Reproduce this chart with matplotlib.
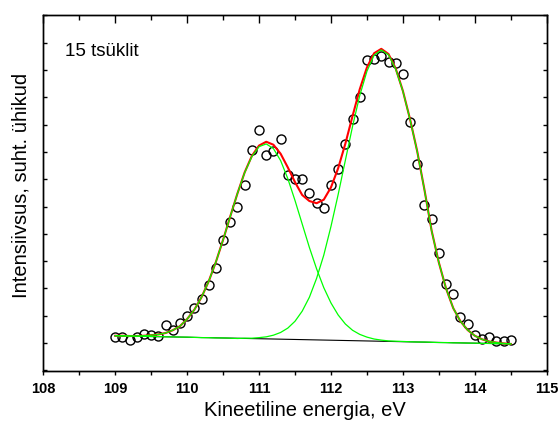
import matplotlib
matplotlib.use('Agg')
import matplotlib.pyplot as plt
from matplotlib.ticker import MultipleLocator

plt.rcParams['font.family'] = ['Liberation Sans', 'DejaVu Sans']

# kineetiline energia (eV)
energy = [109.0, 109.1, 109.2, 109.3, 109.4, 109.5, 109.6, 109.7, 109.8, 109.9,
          110.0, 110.1, 110.2, 110.3, 110.4, 110.5, 110.6, 110.7, 110.8, 110.9,
          111.0, 111.1, 111.2, 111.3, 111.4, 111.5, 111.6, 111.7, 111.8, 111.9,
          112.0, 112.1, 112.2, 112.3, 112.4, 112.5, 112.6, 112.7, 112.8, 112.9,
          113.0, 113.1, 113.2, 113.3, 113.4, 113.5, 113.6, 113.7, 113.8, 113.9,
          114.0, 114.1, 114.2, 114.3, 114.4, 114.5]

# measured points
meas = [0.23, 0.23, 0.11, 0.21, 0.33, 0.29, 0.26, 0.68, 0.47, 0.74,
        1.00, 1.27, 1.63, 2.14, 2.76, 3.78, 4.45, 5.00, 5.80, 7.08,
        7.81, 6.89, 7.02, 7.46, 6.17, 5.99, 6.01, 5.50, 5.12, 4.95,
        5.78, 6.39, 7.29, 8.21, 9.00, 10.35, 10.39, 10.49, 10.29, 10.26,
        9.85, 8.11, 6.56, 5.04, 4.53, 3.31, 2.18, 1.78, 0.96, 0.69,
        0.29, 0.16, 0.23, 0.08, 0.08, 0.11]

# fitted components (with background) and the sum
peak1 = [0.27, 0.27, 0.26, 0.26, 0.27, 0.29, 0.32, 0.37, 0.47, 0.62,
         0.88, 1.22, 1.68, 2.26, 2.97, 3.78, 4.64, 5.48, 6.24, 6.83,
         7.19, 7.29, 7.12, 6.68, 6.02, 5.22, 4.36, 3.50, 2.72, 2.03,
         1.47, 1.03, 0.70, 0.47, 0.32, 0.22, 0.15, 0.11, 0.08, 0.07,
         0.06, 0.05, 0.04, 0.04, 0.03, 0.02, 0.02, 0.01, 0.01, 0.00,
         0.00, -0.01, -0.01, -0.02, -0.02, -0.03]
peak2 = [0.27, 0.26, 0.26, 0.25, 0.25, 0.24, 0.24, 0.23, 0.23, 0.22,
         0.22, 0.21, 0.20, 0.20, 0.19, 0.19, 0.18, 0.17, 0.18, 0.18,
         0.20, 0.23, 0.29, 0.39, 0.55, 0.80, 1.17, 1.68, 2.37, 3.22,
         4.27, 5.44, 6.69, 7.93, 9.06, 9.95, 10.54, 10.73, 10.55, 10.03,
         9.22, 8.18, 7.00, 5.60, 4.10, 2.95, 2.00, 1.28, 0.80, 0.48,
         0.27, 0.14, 0.06, 0.02, -0.01, -0.03]
fit_sum = [0.27, 0.27, 0.26, 0.26, 0.27, 0.29, 0.32, 0.37, 0.47, 0.62,
           0.88, 1.22, 1.68, 2.26, 2.97, 3.78, 4.64, 5.48, 6.25, 6.85,
           7.23, 7.37, 7.26, 6.93, 6.43, 5.89, 5.42, 5.20, 5.12, 5.25,
           5.70, 6.40, 7.30, 8.31, 9.29, 10.09, 10.61, 10.77, 10.58, 10.05,
           9.23, 8.19, 7.01, 5.61, 4.11, 2.95, 2.00, 1.28, 0.80, 0.48,
           0.27, 0.14, 0.06, 0.02, -0.01, -0.03]

# linear background
bg_e = [109.0, 114.5]
bg_i = [0.27, -0.03]

fig = plt.figure(figsize=(5.6, 4.21), dpi=100)
ax = fig.add_axes([0.0773, 0.1188, 0.899, 0.845])

ax.plot(energy, meas, 'o', ms=6.5, mfc='none', mec='black', mew=1.0, zorder=2)
ax.plot(bg_e, bg_i, color='black', lw=0.8, zorder=3)
ax.plot(energy, fit_sum, color='#ff0000', lw=1.5, zorder=4)
ax.plot(energy, peak1, color='#00ff00', lw=0.9, zorder=5)
ax.plot(energy, peak2, color='#00ff00', lw=0.9, zorder=5)

ax.set_xlim(108, 115)
ax.set_ylim(-1.02, 12)
ax.xaxis.set_major_locator(MultipleLocator(1))
ax.xaxis.set_minor_locator(MultipleLocator(0.5))
ax.yaxis.set_major_locator(MultipleLocator(1))
ax.tick_params(axis='x', which='major', direction='out', length=3, width=1,
               labelsize=10.5, pad=5)
ax.tick_params(axis='x', which='minor', direction='out', length=3, width=1)
ax.tick_params(axis='y', which='major', direction='in', length=3, width=1,
               left=True, right=True, labelleft=False)
for lab in ax.get_xticklabels():
    lab.set_fontweight('bold')

top = ax.twiny()
top.set_xlim(ax.get_xlim())
top.xaxis.set_major_locator(MultipleLocator(1))
top.xaxis.set_minor_locator(MultipleLocator(0.5))
top.tick_params(axis='x', which='major', direction='in', length=6, width=1,
                labeltop=False)
top.tick_params(axis='x', which='minor', direction='in', length=3.5, width=1)

for a in (ax, top):
    for sp in a.spines.values():
        sp.set_linewidth(1.0)

ax.set_xlabel('Kineetiline energia, eV', fontsize=14.5)
ax.xaxis.set_label_coords(0.519, -0.084)
ax.set_ylabel('Intensiivsus, suht. ühikud', fontsize=14.5)
ax.yaxis.set_label_coords(-0.026, 0.5215)
ax.text(0.043, 0.898, '15 tsüklit', transform=ax.transAxes, fontsize=13.5,
        va='center', ha='left')

fig.savefig('out.png')
